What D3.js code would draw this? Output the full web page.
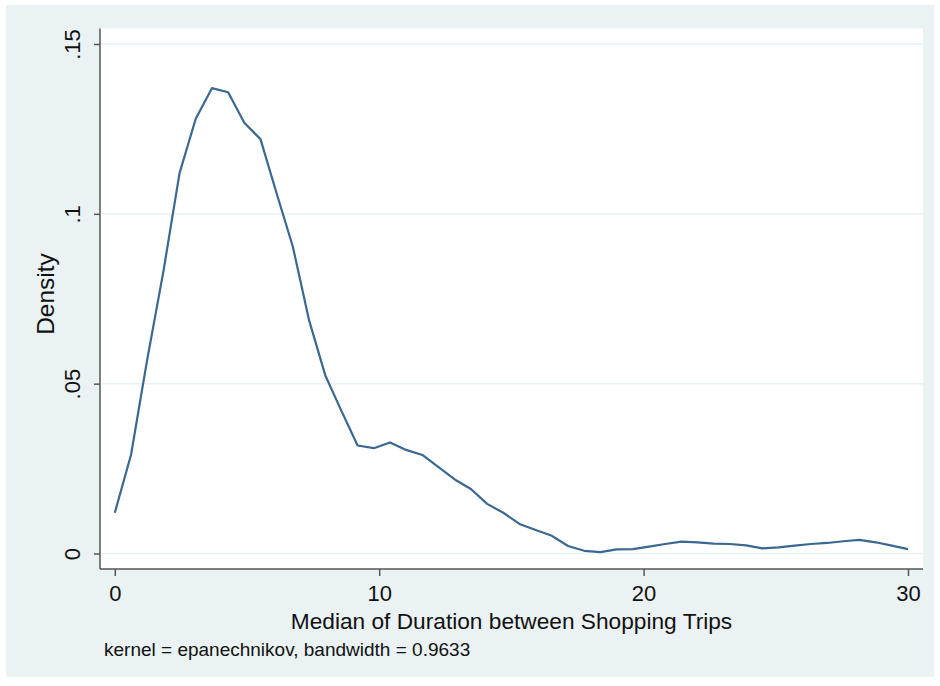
<!DOCTYPE html>
<html>
<head>
  <meta charset="utf-8">
  <title>Kernel density</title>
  <script src="https://d3js.org/d3.v7.min.js"></script>
  <style>
    body { margin: 0; background: #fff; }
    text { font-family: "Liberation Sans", Arial, Helvetica, sans-serif; fill: #111; }
    .grid line { stroke: #eaf2f3; stroke-width: 1.5; }
    .axis path, .axis line { stroke: #555; stroke-width: 1.5; }
  </style>
</head>
<body>
<script>
// evaluation points of the density estimate (50 points over 0..30)
var xValues = [0, 0.612, 1.224, 1.837, 2.449, 3.061, 3.673, 4.286, 4.898, 5.510,
  6.122, 6.735, 7.347, 7.959, 8.571, 9.184, 9.796, 10.408, 11.020, 11.633,
  12.245, 12.857, 13.469, 14.082, 14.694, 15.306, 15.918, 16.531, 17.143, 17.755,
  18.367, 18.980, 19.592, 20.204, 20.816, 21.429, 22.041, 22.653, 23.265, 23.878,
  24.490, 25.102, 25.714, 26.327, 26.939, 27.551, 28.163, 28.776, 29.388, 30];

var densityValues = [0.012, 0.029, 0.057, 0.083, 0.112, 0.128, 0.137, 0.1358, 0.1268, 0.122,
  0.106, 0.0903, 0.0687, 0.0525, 0.042, 0.0318, 0.031, 0.0327, 0.0305, 0.029,
  0.0254, 0.0218, 0.019, 0.0146, 0.012, 0.0087, 0.0069, 0.0052, 0.0022, 0.0008,
  0.0004, 0.0012, 0.0013, 0.002, 0.0028, 0.0035, 0.0033, 0.0029, 0.0028, 0.0024,
  0.0015, 0.0018, 0.0023, 0.0028, 0.0031, 0.0036, 0.004, 0.0033, 0.0023, 0.0013];

var xTicks = [0, 10, 20, 30];
var yTicks = [0, 0.05, 0.1, 0.15];
var yTickLabels = ["0", ".05", ".1", ".15"];

var xTitle = "Median of Duration between Shopping Trips";
var yTitle = "Density";
var note = "kernel = epanechnikov, bandwidth = 0.9633";

var width = 940,
    height = 686;

// plot region
var plot = { left: 100, top: 28.5, right: 923, bottom: 569 };

var x = d3.scaleLinear()
    .domain([0, 30])
    .range([114.8, 908]);

var y = d3.scaleLinear()
    .domain([0, 0.15])
    .range([553.5, 44]);

var svg = d3.select("body").append("svg")
    .attr("width", width)
    .attr("height", height);

// outer graph region
svg.append("rect")
    .attr("x", 6)
    .attr("y", 5)
    .attr("width", 928)
    .attr("height", 672)
    .attr("fill", "#eaf2f3");

svg.append("rect")
    .attr("x", plot.left)
    .attr("y", plot.top)
    .attr("width", plot.right - plot.left)
    .attr("height", plot.bottom - plot.top)
    .attr("fill", "#fff");

// horizontal grid lines
svg.append("g")
    .attr("class", "grid")
    .selectAll("line")
    .data(yTicks)
    .enter()
    .append("line")
    .attr("x1", plot.left)
    .attr("x2", plot.right)
    .attr("y1", function(d) { return y(d); })
    .attr("y2", function(d) { return y(d); });

// axes
var yAxis = svg.append("g")
    .attr("class", "axis")
    .attr("transform", "translate(" + plot.left + ",0)")
    .call(d3.axisLeft(y)
      .tickValues(yTicks)
      .tickSize(6)
      .tickSizeOuter(0)
      .tickFormat(function(d, i) { return yTickLabels[i]; }));

yAxis.select(".domain").attr("d", "M0," + plot.top + "V" + plot.bottom);
yAxis.selectAll(".tick text")
    .attr("x", null)
    .attr("dy", null)
    .attr("transform", "translate(-20,0) rotate(-90)")
    .attr("text-anchor", "middle")
    .style("font-size", "22px")
    .attr("fill", "#111");

var xAxis = svg.append("g")
    .attr("class", "axis")
    .attr("transform", "translate(0," + plot.bottom + ")")
    .call(d3.axisBottom(x)
      .tickValues(xTicks)
      .tickSize(7)
      .tickSizeOuter(0)
      .tickFormat(d3.format("d")));

xAxis.select(".domain").attr("d", "M" + plot.left + ",0H" + plot.right);
xAxis.selectAll(".tick text")
    .attr("y", 32)
    .attr("dy", null)
    .style("font-size", "22px")
    .attr("fill", "#111");

svg.selectAll(".axis").attr("font-family", null).attr("font-size", null);

// density line
var line = d3.line()
    .x(function(d, i) { return x(xValues[i]); })
    .y(function(d) { return y(d); });

svg.append("path")
    .datum(densityValues)
    .attr("fill", "none")
    .attr("stroke", "#3a6891")
    .attr("stroke-width", 2.2)
    .attr("stroke-linejoin", "round")
    .attr("d", line);

// titles
svg.append("text")
    .attr("x", 511.5)
    .attr("y", 629)
    .attr("text-anchor", "middle")
    .style("font-size", "22.7px")
    .text(xTitle);

svg.append("text")
    .attr("transform", "translate(54,294) rotate(-90)")
    .attr("text-anchor", "middle")
    .style("font-size", "24.5px")
    .text(yTitle);

svg.append("text")
    .attr("x", 104)
    .attr("y", 656)
    .style("font-size", "19px")
    .text(note);
</script>
</body>
</html>
